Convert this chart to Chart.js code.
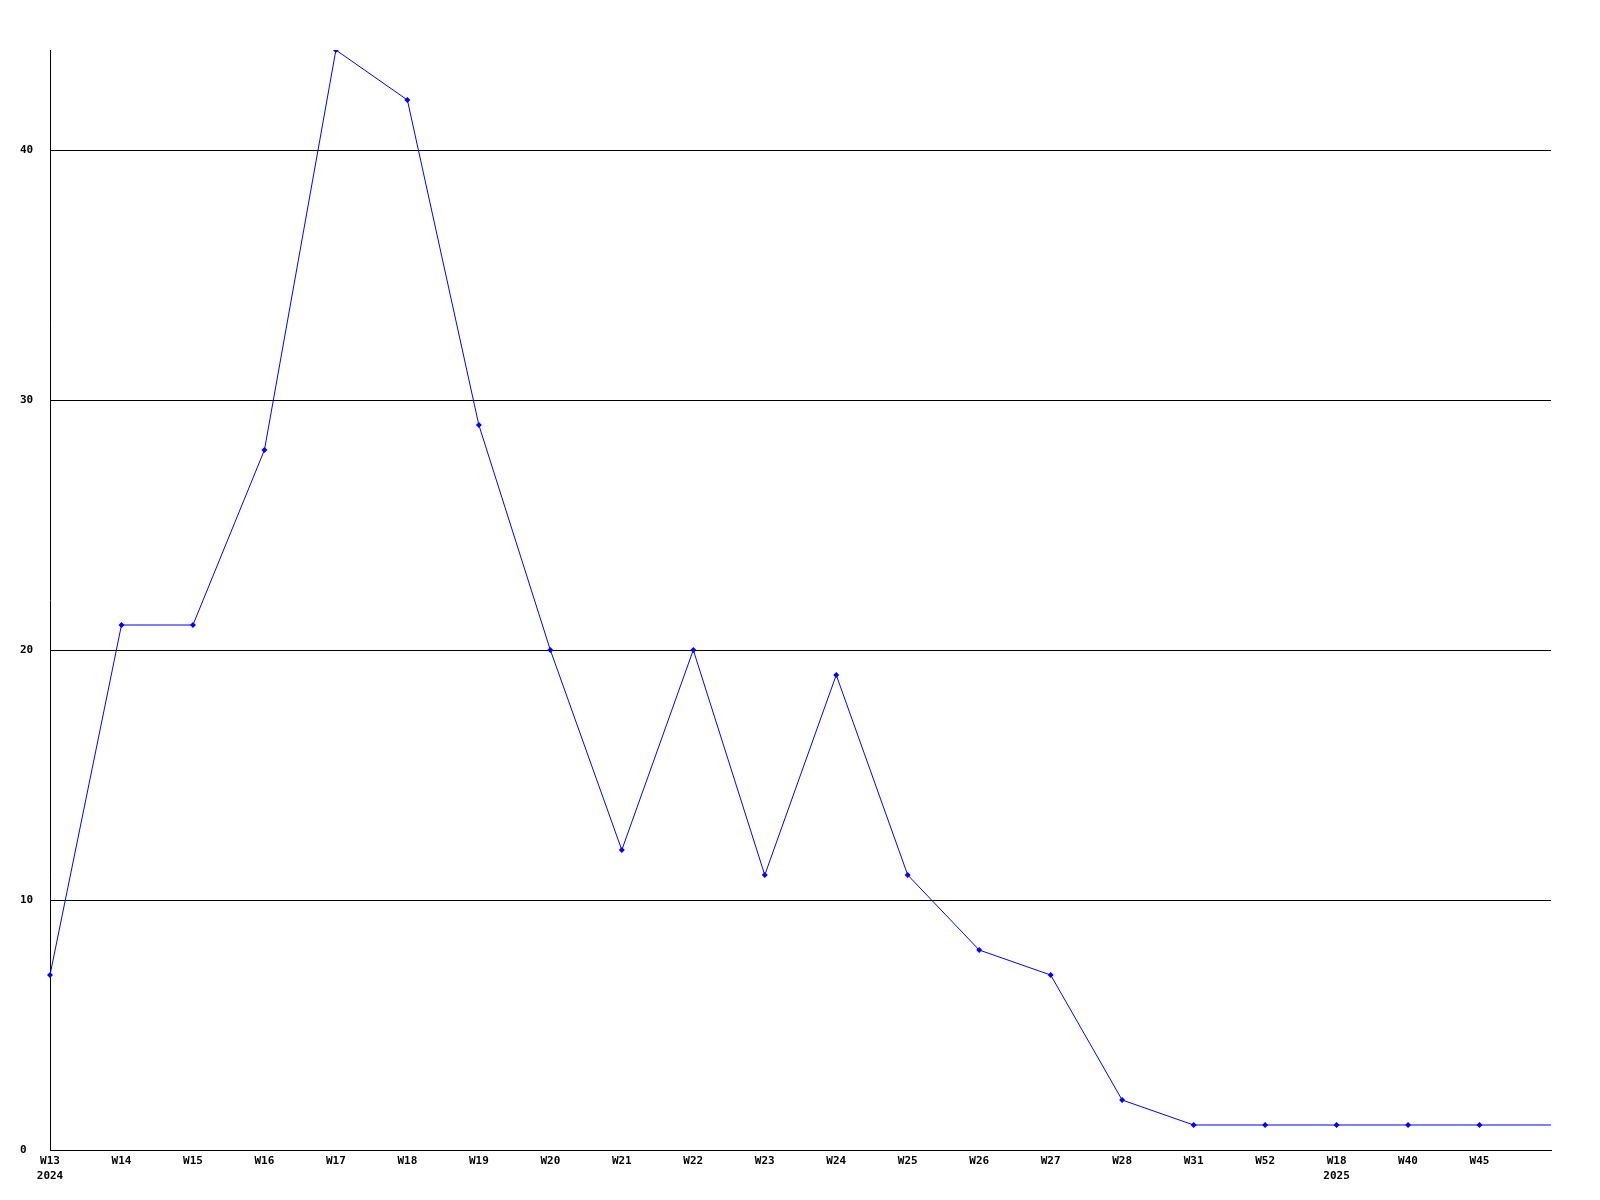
<!DOCTYPE html>
<html>
<head>
<meta charset="utf-8">
<script src="https://cdn.jsdelivr.net/npm/chart.js@4/dist/chart.umd.min.js"></script>
<style>
  html, body { margin: 0; padding: 0; background: #fff; }
  #wrap { width: 1600px; height: 1200px; }
</style>
</head>
<body>
<div id="wrap"><canvas id="weekChart" width="1600" height="1200"></canvas></div>
<script>
// week labels (second line = year), last entry is the run-out to the right edge
const weeks = [['W13', '2024'], 'W14', 'W15', 'W16', 'W17', 'W18', 'W19', 'W20', 'W21', 'W22',
    'W23', 'W24', 'W25', 'W26', 'W27', 'W28', 'W31', 'W52', ['W18', '2025'], 'W40', 'W45', ''];
const counts = [7, 21, 21, 28, 44, 42, 29, 20, 12, 20, 11, 19, 11, 8, 7, 2, 1, 1, 1, 1, 1, 1];
const yTicks = [0, 10, 20, 30, 40];

const labelFont = { family: 'DejaVu Sans Mono', size: 11, weight: 'bold', lineHeight: 1.35 };

const ctx = document.getElementById('weekChart').getContext('2d');
const weekChart = new Chart(ctx, {
    type: 'line',
    data: {
        labels: weeks,
        datasets: [{
            data: counts,
            borderColor: '#0000ff',
            backgroundColor: '#0000ff',
            borderWidth: 1,
            pointStyle: 'rectRot',
            pointRadius: counts.map((v, i) => i === counts.length - 1 ? 0 : 3),
            pointBorderWidth: 0,
            tension: 0,
            fill: false
        }]
    },
    options: {
        responsive: false,
        animation: false,
        events: [],
        layout: {
            padding: { left: 20, right: 49, top: 50, bottom: 0 }
        },
        scales: {
            x: {
                offset: false,
                grid: { display: false, drawTicks: false },
                border: { display: true, color: '#000', width: 1 },
                ticks: {
                    color: '#000',
                    font: labelFont,
                    padding: 4,
                    maxRotation: 0,
                    autoSkip: false
                },
                afterFit: function(axis) { axis.height = 50; }
            },
            y: {
                min: 0,
                max: 44,
                grid: { color: '#000', lineWidth: 1, drawTicks: false },
                border: { display: true, color: '#000', width: 1 },
                ticks: {
                    color: '#000',
                    font: labelFont,
                    crossAlign: 'far',
                    stepSize: 10
                },
                afterBuildTicks: function(axis) {
                    axis.ticks = yTicks.map(v => ({ value: v }));
                },
                afterFit: function(axis) { axis.width = 30; }
            }
        },
        plugins: {
            legend: { display: false },
            tooltip: { enabled: false }
        }
    }
});
</script>
</body>
</html>
